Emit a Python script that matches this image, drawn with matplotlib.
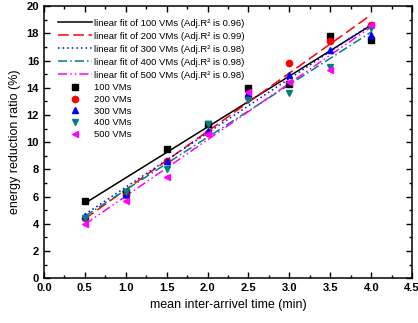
import numpy as np
import matplotlib
matplotlib.use('Agg')
import matplotlib.pyplot as plt
from matplotlib.ticker import MultipleLocator

plt.rcParams['font.family'] = ['Liberation Sans', 'DejaVu Sans']

# mean inter-arrival time (min)
times = [0.5, 1.0, 1.5, 2.0, 2.5, 3.0, 3.5, 4.0]

# energy reduction ratio (%)
vm100 = [5.7, 6.3, 9.5, 11.3, 14.0, 14.3, 17.8, 17.5]
vm200 = [4.4, 6.1, 8.6, 10.7, 13.3, 15.8, 17.4, 18.6]
vm300 = [4.6, 6.2, 8.6, 10.8, 13.6, 14.9, 16.8, 17.9]
vm400 = [4.4, 6.3, 8.0, 11.3, 13.1, 13.6, 15.5, 18.4]
vm500 = [4.0, 5.7, 7.4, 10.6, 13.7, 14.4, 15.3, 18.6]

series_names = ['100 VMs', '200 VMs', '300 VMs', '400 VMs', '500 VMs']
adj_r2 = ['0.96', '0.99', '0.98', '0.98', '0.98']
series = [vm100, vm200, vm300, vm400, vm500]

colors = ['black', 'red', 'blue', '#008080', 'magenta']
linestyles = ['-', (0, (7, 3)), (0, (1, 2)), (0, (6, 2, 1, 2)), (0, (6, 2, 1, 2, 1, 2))]
markers = ['s', 'o', '^', 'v', '<']

fig, ax = plt.subplots(figsize=(4.18, 3.23), dpi=100)
fig.subplots_adjust(left=0.105, right=0.986, bottom=0.139, top=0.981)

x = np.array(times)
line_handles = []
for name, r2, ys, c, ls in zip(series_names, adj_r2, series, colors, linestyles):
    k, b = np.polyfit(x, ys, 1)
    h, = ax.plot(x, k * x + b, color=c, linestyle=ls, linewidth=1.1,
                 label='linear fit of %s (Adj.R\u00b2 is %s)' % (name, r2))
    line_handles.append(h)

marker_handles = []
for name, ys, c, m in zip(series_names, series, colors, markers):
    h, = ax.plot(times, ys, linestyle='none', marker=m, color=c,
                 markersize=4.5, label=name)
    marker_handles.append(h)

ax.set_xlim(0, 4.5)
ax.set_ylim(0, 20)
ax.xaxis.set_major_locator(MultipleLocator(0.5))
ax.xaxis.set_minor_locator(MultipleLocator(0.25))
ax.yaxis.set_major_locator(MultipleLocator(2))
ax.yaxis.set_minor_locator(MultipleLocator(1))
ax.xaxis.set_major_formatter(matplotlib.ticker.FormatStrFormatter('%.1f'))
ax.tick_params(which='both', direction='in', top=True, right=True, width=1)
ax.tick_params(which='major', length=4, labelsize=8)
ax.tick_params(which='minor', length=2)
for lab in ax.get_xticklabels() + ax.get_yticklabels():
    lab.set_fontweight('bold')
for sp in ax.spines.values():
    sp.set_linewidth(1.1)

ax.set_xlabel('mean inter-arrivel time (min)', fontsize=9)
ax.set_ylabel('energy reduction ratio (%)', fontsize=9)

# two legends: fit lines on top, markers below
leg1 = ax.legend(handles=line_handles, loc='upper left', bbox_to_anchor=(0.139, 0.942),
                 bbox_transform=fig.transFigure, frameon=False, fontsize=6.8,
                 handlelength=3.6, labelspacing=0.42, borderpad=0, borderaxespad=0,
                 handletextpad=0.15)
ax.add_artist(leg1)
ax.legend(handles=marker_handles, loc='upper left', bbox_to_anchor=(0.139, 0.742),
          bbox_transform=fig.transFigure, frameon=False, fontsize=6.8,
          handlelength=3.6, labelspacing=0.28, borderpad=0, borderaxespad=0,
          handletextpad=0.15)

fig.savefig('out.png', dpi=100)
